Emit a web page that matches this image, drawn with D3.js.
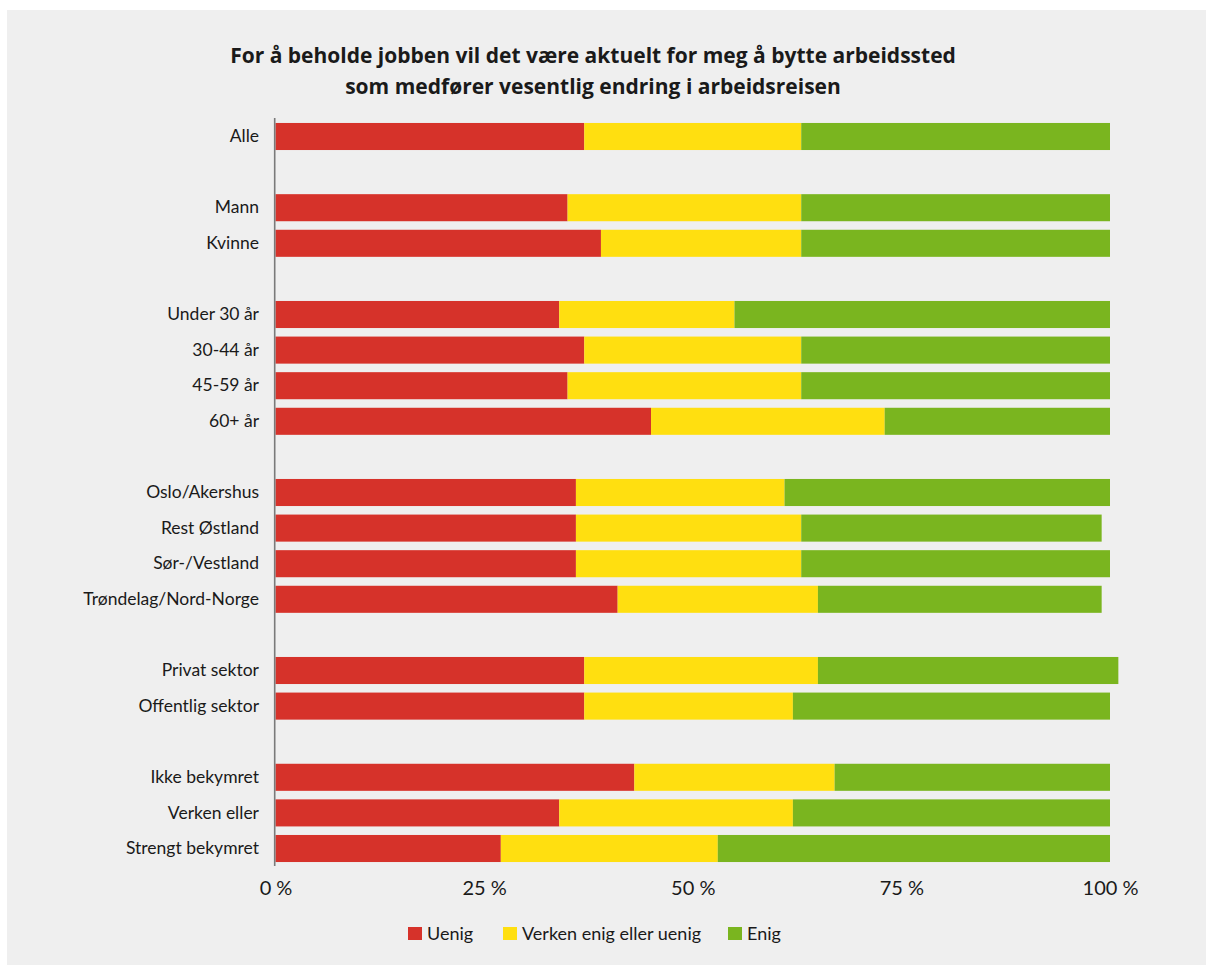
<!DOCTYPE html>
<html>
<head>
<meta charset="utf-8">
<script src="https://cdn.jsdelivr.net/npm/d3@7"></script>
<style>
  html, body { margin: 0; padding: 0; background: #ffffff; }
  svg { display: block; }
  text { font-family: "Lato", "Open Sans", sans-serif; fill: #1a1a1a; }
</style>
</head>
<body>
<svg id="chart" width="1206" height="965"></svg>
<script>
// ---- data ----
const titleLines = [
  "For å beholde jobben vil det være aktuelt for meg å bytte arbeidssted",
  "som medfører vesentlig endring i arbeidsreisen"
];
const categories = [
  "Alle",
  "Mann", "Kvinne",
  "Under 30 år", "30-44 år", "45-59 år", "60+ år",
  "Oslo/Akershus", "Rest Østland", "Sør-/Vestland", "Trøndelag/Nord-Norge",
  "Privat sektor", "Offentlig sektor",
  "Ikke bekymret", "Verken eller", "Strengt bekymret"
];
const groupIndex = [0, 1, 1, 2, 2, 2, 2, 3, 3, 3, 3, 4, 4, 5, 5, 5];
const seriesNames = ["Uenig", "Verken enig eller uenig", "Enig"];
const uenig  = [37, 35, 39, 34, 37, 35, 45, 36, 36, 36, 41, 37, 37, 43, 34, 27];
const verken = [26, 28, 24, 21, 26, 28, 28, 25, 27, 27, 24, 28, 25, 24, 28, 26];
const enig   = [37, 37, 37, 45, 37, 37, 27, 39, 36, 37, 34, 36, 38, 33, 38, 47];
const tickValues = [0, 25, 50, 75, 100];
const tickLabels = ["0 %", "25 %", "50 %", "75 %", "100 %"];
const colors = ["#d6322a", "#ffdf10", "#7ab51f"];

// ---- chart ----
const svg = d3.select("#chart");
svg.append("rect").attr("x", 7).attr("y", 10).attr("width", 1199).attr("height", 955).attr("fill", "#efefef");

const title = svg.append("text").attr("text-anchor", "middle")
  .style("font-family", "'Open Sans', Lato, sans-serif")
  .style("font-weight", "700").style("font-size", "21px");
titleLines.forEach((t, i) => {
  title.append("tspan").attr("x", 593).attr("y", 63 + i * 31).text(t);
});

const nSlots = categories.length + groupIndex[groupIndex.length - 1];
const y = d3.scaleBand().domain(d3.range(nSlots)).range([118.7, 866.3])
  .paddingInner(0.24).paddingOuter(0.12);
const x = d3.scaleLinear().domain([0, 100]).range([275.5, 1110]);

const rows = categories.map((c, i) => ({
  label: c, slot: i + groupIndex[i], vals: [uenig[i], verken[i], enig[i]]
}));

const stackData = rows.map(r => ({ slot: r.slot, Uenig: r.vals[0], Verken: r.vals[1], Enig: r.vals[2] }));
const stack = d3.stack().keys(["Uenig", "Verken", "Enig"])(stackData);

svg.append("g").selectAll("g").data(stack).join("g")
  .attr("fill", (d, i) => colors[i])
  .selectAll("rect").data(d => d).join("rect")
  .attr("x", d => x(d[0]))
  .attr("width", d => x(d[1]) - x(d[0]))
  .attr("y", d => y(d.data.slot))
  .attr("height", y.bandwidth());

// category labels
svg.append("g").selectAll("text").data(rows).join("text")
  .attr("x", 259)
  .attr("y", d => y(d.slot) + y.bandwidth() / 2)
  .attr("dy", "0.33em")
  .attr("text-anchor", "end")
  .style("font-size", "17.5px")
  .text(d => d.label);

// vertical axis line
svg.append("line")
  .attr("x1", 274.7).attr("x2", 274.7)
  .attr("y1", 118).attr("y2", 866)
  .attr("stroke", "#7a7a7a").attr("stroke-width", 1.6);

// x tick labels
const xAxis = d3.axisBottom(x).tickValues(tickValues)
  .tickFormat((d, i) => tickLabels[i]).tickSize(0).tickPadding(0);
const gx = svg.append("g").attr("transform", "translate(0,880)").call(xAxis);
gx.select(".domain").remove();
gx.selectAll("text")
  .attr("y", 0).attr("dy", "0.75em")
  .style("font-family", "Lato, sans-serif")
  .style("font-size", "20px")
  .attr("fill", "#1a1a1a");

// legend
const legendX = [408, 503, 728];
const lg = svg.append("g").selectAll("g").data(seriesNames).join("g")
  .attr("transform", (d, i) => `translate(${legendX[i]},927)`);
lg.append("rect").attr("width", 14).attr("height", 13).attr("fill", (d, i) => colors[i]);
lg.append("text").attr("x", 19).attr("y", 12.5).style("font-size", "18px").text(d => d);
</script>
</body>
</html>
